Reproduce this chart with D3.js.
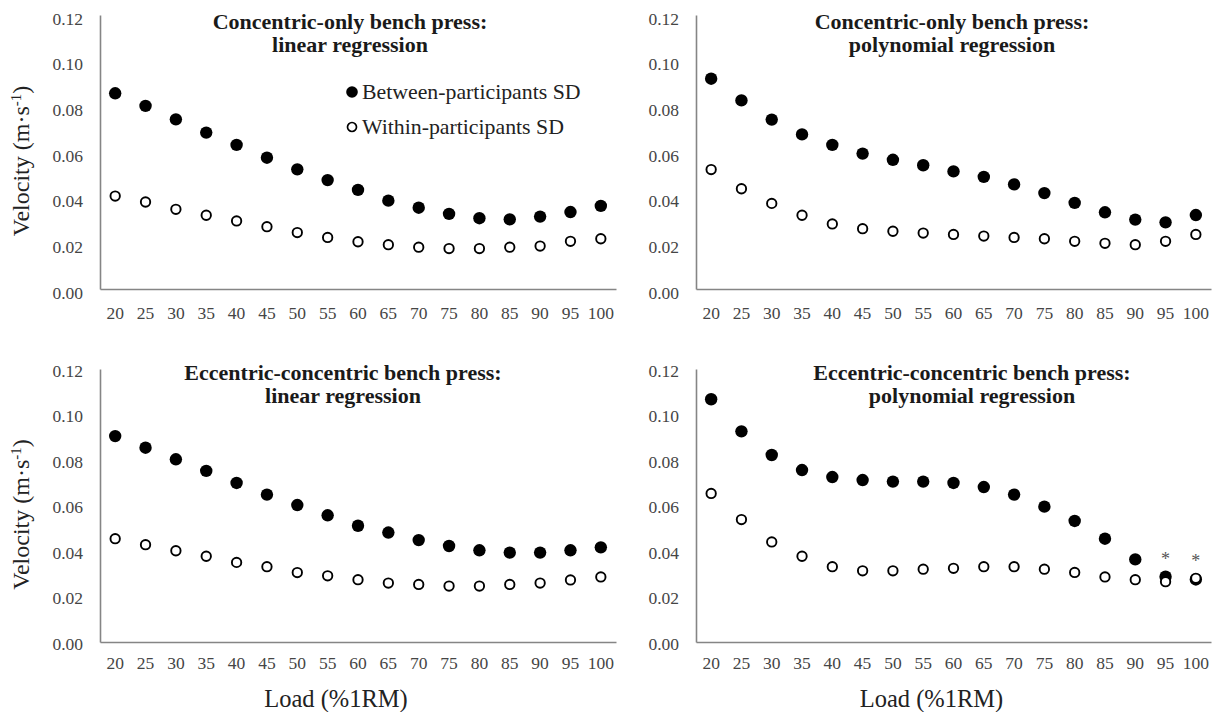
<!DOCTYPE html>
<html>
<head>
<meta charset="utf-8">
<script src="https://cdn.jsdelivr.net/npm/d3@7"></script>
<style>
  html, body { margin: 0; padding: 0; background: #fff; }
  svg { display: block; font-family: "Liberation Serif", "Times New Roman", serif; }
</style>
</head>
<body>
<svg id="chart" width="1221" height="712"></svg>
<script>
// Load levels (%1RM) shared by all four panels
const loads = [20, 25, 30, 35, 40, 45, 50, 55, 60, 65, 70, 75, 80, 85, 90, 95, 100];
const yTicks = [0, 0.02, 0.04, 0.06, 0.08, 0.10, 0.12];

const seriesNames = ["Between-participants SD", "Within-participants SD"];

// Concentric-only bench press, linear regression
const coLinearBetween = [0.0857, 0.0802, 0.0743, 0.0685, 0.0631, 0.0575, 0.0524, 0.0477, 0.0434, 0.0387, 0.0356, 0.0329, 0.0310, 0.0305, 0.0317, 0.0337, 0.0364];
const coLinearWithin  = [0.0407, 0.0381, 0.0349, 0.0323, 0.0298, 0.0273, 0.0247, 0.0226, 0.0207, 0.0194, 0.0183, 0.0177, 0.0177, 0.0183, 0.0188, 0.0209, 0.0220];

// Concentric-only bench press, polynomial regression
const coPolyBetween = [0.0921, 0.0826, 0.0742, 0.0677, 0.0631, 0.0593, 0.0566, 0.0542, 0.0515, 0.0491, 0.0458, 0.0420, 0.0377, 0.0336, 0.0304, 0.0292, 0.0324];
const coPolyWithin  = [0.0523, 0.0439, 0.0375, 0.0323, 0.0285, 0.0264, 0.0253, 0.0245, 0.0239, 0.0232, 0.0226, 0.0220, 0.0209, 0.0200, 0.0194, 0.0209, 0.0239];

// Eccentric-concentric bench press, linear regression
const ecLinearBetween = [0.0905, 0.0854, 0.0803, 0.0752, 0.0699, 0.0648, 0.0602, 0.0557, 0.0511, 0.0481, 0.0448, 0.0422, 0.0403, 0.0393, 0.0393, 0.0403, 0.0416];
const ecLinearWithin  = [0.0454, 0.0428, 0.0401, 0.0377, 0.0350, 0.0331, 0.0305, 0.0291, 0.0274, 0.0259, 0.0253, 0.0246, 0.0246, 0.0253, 0.0259, 0.0273, 0.0286];

// Eccentric-concentric bench press, polynomial regression
const ecPolyBetween = [0.1067, 0.0926, 0.0822, 0.0756, 0.0725, 0.0712, 0.0705, 0.0705, 0.0699, 0.0681, 0.0648, 0.0595, 0.0532, 0.0454, 0.0363, 0.0287, 0.0275];
const ecPolyWithin  = [0.0653, 0.0538, 0.0440, 0.0377, 0.0331, 0.0313, 0.0313, 0.0320, 0.0324, 0.0331, 0.0331, 0.0320, 0.0306, 0.0286, 0.0274, 0.0265, 0.0280];
// Loads flagged with an asterisk in the last panel
const ecPolyFlagged = [95, 100];

const titles = [
  ["Concentric-only bench press:", "linear regression"],
  ["Concentric-only bench press:", "polynomial regression"],
  ["Eccentric-concentric bench press:", "linear regression"],
  ["Eccentric-concentric bench press:", "polynomial regression"]
];

const panelData = [
  { between: coLinearBetween, within: coLinearWithin, flagged: [] },
  { between: coPolyBetween, within: coPolyWithin, flagged: [] },
  { between: ecLinearBetween, within: ecLinearWithin, flagged: [] },
  { between: ecPolyBetween, within: ecPolyWithin, flagged: ecPolyFlagged }
];

// Panel frames (plot area edges) and per-panel text placement
const frames = [
  { x0: 100, x1: 616, y0: 15,  y1: 289, titleX: 350, titleY: 22,  tickDy: 3.5, xPad: 17.3, legend: true,  yTitle: true,  xTitle: false },
  { x0: 696, x1: 1211, y0: 15,  y1: 289, titleX: 952, titleY: 22,  tickDy: 3.5, xPad: 17.3, legend: false, yTitle: false, xTitle: false },
  { x0: 100, x1: 616, y0: 369, y1: 642, titleX: 343, titleY: 373, tickDy: 1.5, xPad: 15,   legend: false, yTitle: true,  xTitle: true },
  { x0: 696, x1: 1211, y0: 369, y1: 642, titleX: 972, titleY: 373, tickDy: 1.5, xPad: 15,   legend: false, yTitle: false, xTitle: true }
];

const axisColor = "#858585";
const tickColor = "#454545";
const rFilled = 6.2, rOpen = 4.7;

const svg = d3.select("#chart");

frames.forEach((f, i) => {
  const d = panelData[i];
  const x = d3.scaleBand().domain(loads).range([f.x0, f.x1]).paddingInner(0).paddingOuter(0);
  const y = d3.scaleLinear().domain([0, 0.12]).range([f.y1, f.y0]);
  const g = svg.append("g");

  // y axis
  const yAxis = g.append("g")
    .attr("transform", `translate(${f.x0},0)`)
    .call(d3.axisLeft(y).tickValues(yTicks).tickFormat(d3.format(".2f")).tickSize(0).tickSizeOuter(0).tickPadding(17));
  yAxis.select(".domain").attr("stroke", axisColor).attr("stroke-width", 1.6);
  yAxis.selectAll("text")
    .attr("font-family", "Liberation Serif, serif").attr("font-size", 17.5)
    .attr("fill", tickColor).attr("transform", `translate(0,${f.tickDy})`);

  // x axis
  const xAxis = g.append("g")
    .attr("transform", `translate(0,${f.y1})`)
    .call(d3.axisBottom(x).tickSize(0).tickSizeOuter(0).tickPadding(f.xPad));
  xAxis.select(".domain").attr("stroke", axisColor).attr("stroke-width", 1.6);
  xAxis.selectAll("text")
    .attr("font-family", "Liberation Serif, serif").attr("font-size", 17.5)
    .attr("fill", tickColor);

  const cx = v => x(v) + x.bandwidth() / 2;

  // between-participants SD (filled)
  g.append("g").selectAll("circle").data(d.between).join("circle")
    .attr("cx", (v, k) => cx(loads[k]))
    .attr("cy", v => y(v))
    .attr("r", rFilled)
    .attr("fill", "#000");

  // within-participants SD (open), drawn on top
  g.append("g").selectAll("circle").data(d.within).join("circle")
    .attr("cx", (v, k) => cx(loads[k]))
    .attr("cy", v => y(v))
    .attr("r", rOpen)
    .attr("fill", "#fff")
    .attr("stroke", "#000")
    .attr("stroke-width", 1.9);

  // asterisks above flagged loads
  g.append("g").selectAll("text").data(d.flagged).join("text")
    .attr("x", v => cx(v))
    .attr("y", v => {
      const k = loads.indexOf(v);
      return y(Math.max(d.between[k], d.within[k])) - 22;
    })
    .attr("text-anchor", "middle")
    .attr("dominant-baseline", "central")
    .attr("dy", "0.25em")
    .attr("font-size", 18)
    .attr("fill", "#555")
    .text("*");

  // panel title
  const t = g.append("text")
    .attr("x", f.titleX).attr("y", f.titleY)
    .attr("text-anchor", "middle")
    .attr("font-weight", "bold")
    .attr("font-size", 22)
    .attr("fill", "#1a1a1a");
  titles[i].forEach((line, j) => {
    t.append("tspan").attr("x", f.titleX).attr("dy", j === 0 ? "0.33em" : 22.8).text(line);
  });

  // y axis title
  if (f.yTitle) {
    const cyT = (f.y0 + f.y1) / 2 + 9;
    const yt = g.append("text")
      .attr("transform", `translate(21,${cyT}) rotate(-90)`)
      .attr("text-anchor", "middle")
      .attr("dy", "0.33em")
      .attr("font-size", 24)
      .attr("fill", "#222");
    yt.append("tspan").text("Velocity (m·s");
    yt.append("tspan").attr("font-size", 15).attr("baseline-shift", "super").text("-1");
    yt.append("tspan").text(")");
  }

  // x axis title
  if (f.xTitle) {
    g.append("text")
      .attr("x", (f.x0 + f.x1) / 2 - 22)
      .attr("y", 699)
      .attr("dy", "0.33em")
      .attr("text-anchor", "middle")
      .attr("font-size", 24.5)
      .attr("fill", "#222")
      .text("Load (%1RM)");
  }

  // legend
  if (f.legend) {
    const lg = g.append("g").attr("transform", `translate(${f.x0 + 252},${f.y0 + 77})`);
    const items = lg.selectAll("g").data(seriesNames).join("g")
      .attr("transform", (s, k) => `translate(0,${k * 35})`);
    items.append("circle")
      .attr("r", (s, k) => k === 0 ? 5.8 : 4.5)
      .attr("fill", (s, k) => k === 0 ? "#000" : "#fff")
      .attr("stroke", (s, k) => k === 0 ? "none" : "#000")
      .attr("stroke-width", 1.7);
    items.append("text")
      .attr("x", 10).attr("dy", "0.33em")
      .attr("font-size", 21.8)
      .attr("fill", "#222")
      .text(s => s);
  }
});
</script>
</body>
</html>
